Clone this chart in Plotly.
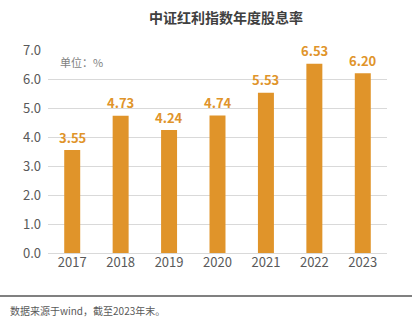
import plotly.graph_objects as go

years = ["2017", "2018", "2019", "2020", "2021", "2022", "2023"]
rates = [3.55, 4.73, 4.24, 4.74, 5.53, 6.53, 6.20]
labels = ["3.55", "4.73", "4.24", "4.74", "5.53", "6.53", "6.20"]
y_ticks = [0, 1, 2, 3, 4, 5, 6, 7]
y_tick_text = ["0.0", "1.0", "2.0", "3.0", "4.0", "5.0", "6.0", "7.0"]

BAR = "#E0942A"
FONT = "Noto Sans CJK SC"

W, H = 412, 330
ml, mr, mt, mb = 48, 25, 50, 77
pw, ph = W - ml - mr, H - mt - mb

fig = go.Figure()
fig.add_trace(go.Bar(
    x=years, y=rates,
    marker=dict(color=BAR, line=dict(width=0)),
    width=0.33, hoverinfo="skip",
))

for i, (v, lab) in enumerate(zip(rates, labels)):
    fig.add_annotation(x=i, y=v, text=f"<b>{lab}</b>", showarrow=False,
                       xanchor="center", yanchor="middle", yshift=13,
                       font=dict(family=FONT, size=13, color=BAR))

fig.update_layout(
    width=W, height=H, margin=dict(l=ml, r=mr, t=mt, b=mb),
    paper_bgcolor="white", plot_bgcolor="white",
    showlegend=False,
    title=dict(text="<b>中证红利指数年度股息率</b>", x=226 / W, xanchor="center",
               y=1 - 18 / H, yanchor="middle",
               font=dict(family=FONT, size=14, color="#404040")),
    xaxis=dict(type="category", categoryarray=years, showgrid=False, showline=False, ticks="",
               tickfont=dict(family=FONT, size=13, color="#595959")),
    yaxis=dict(range=[0, 7], tickvals=y_ticks, ticktext=y_tick_text,
               showgrid=True, gridcolor="#D9D9D9", gridwidth=1,
               zeroline=True, zerolinecolor="#D9D9D9", zerolinewidth=1,
               showline=False, ticks="", ticklabelstandoff=6,
               tickfont=dict(family=FONT, size=13, color="#595959")),
    font=dict(family=FONT),
)

fig.add_annotation(text="单位：%", xref="paper", yref="paper",
                   x=(58 - ml) / pw, y=(253 - 62) / ph, xanchor="left", yanchor="middle",
                   showarrow=False, font=dict(family=FONT, size=11, color="#7F7F7F"))

fig.add_shape(type="line", xref="paper", yref="paper",
              x0=-ml / pw, x1=1 + mr / pw, y0=(253 - 296) / ph, y1=(253 - 296) / ph,
              line=dict(color="#808080", width=2))

fig.add_annotation(text="数据来源于wind，截至2023年末。", xref="paper", yref="paper",
                   x=(8 - ml) / pw, y=(253 - 310) / ph, xanchor="left", yanchor="middle",
                   showarrow=False, font=dict(family=FONT, size=10, color="#595959"))

fig.write_html("out.html")
